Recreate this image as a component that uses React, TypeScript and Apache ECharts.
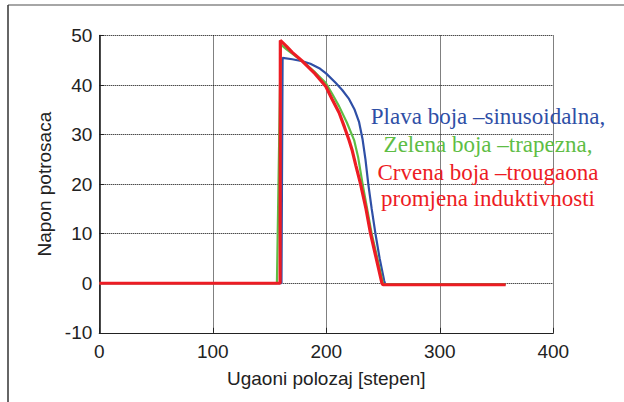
import React, { useEffect, useRef } from "react";
import * as echarts from "echarts";

// X axis: ugaoni polozaj [stepen]
const blueX = [0, 160.5, 161.5, 170, 179, 186, 193.8, 200, 208.4, 214, 220, 225, 228.9, 232, 234.5, 237, 240, 243.3, 247, 251, 252, 300, 358];
const blueY = [0, 0, 45.5, 45.2, 44.8, 44.3, 43.4, 42.3, 40.4, 39, 37.2, 35, 32.5, 29, 25, 20, 15, 10, 5, 0.5, -0.2, -0.2, -0.2];

const greenX = [0, 156.5, 159.8, 165, 172, 180, 190, 199.6, 205, 211.3, 218, 224.5, 228, 232, 236, 240, 245, 250, 251, 300, 358];
const greenY = [0, 0, 48.2, 47.2, 46, 44.6, 42.6, 40.4, 38.3, 35.7, 32.5, 28.9, 25.5, 20, 15, 10, 5, 0, -0.2, -0.2, -0.2];

const redX = [0, 159.3, 159.5, 165, 170, 179, 190, 199.6, 205, 211.3, 216, 220, 222.7, 226, 230, 235, 239, 244, 249, 250, 300, 358];
const redY = [0, 0, 49, 47.8, 46.6, 44.8, 42.3, 39.7, 37.2, 34.4, 31.5, 28.9, 26.9, 23.8, 20.2, 15, 10, 5, 0, -0.3, -0.3, -0.3];

const legendLines = [
  "Plava boja \u2013sinusoidalna,",
  "Zelena boja \u2013trapezna,",
  "Crvena boja \u2013trougaona",
  "promjena induktivnosti",
];

const BLUE = "#2f4fa6";
const GREEN = "#5ebd45";
const RED = "#ed1c24";

const pairs = (xs: number[], ys: number[]) => xs.map((x, i) => [x, ys[i]]);

export default function App() {
  const ref = useRef<HTMLDivElement>(null);
  useEffect(() => {
    if (!ref.current) return;
    const chart = echarts.init(ref.current, null, { renderer: "svg" });
    const legendColors = [BLUE, GREEN, RED, RED];
    const legendY = [105, 133, 160.5, 187];
    chart.setOption({
      animation: false,
      backgroundColor: "#fff",
      grid: { left: 99.3, right: 70.7, top: 35.5, bottom: 69.2, containLabel: false },
      xAxis: {
        type: "value",
        min: 0,
        max: 400,
        interval: 100,
        name: "Ugaoni polozaj [stepen]",
        nameLocation: "middle",
        nameGap: 36,
        nameTextStyle: { fontFamily: "Liberation Sans", fontSize: 19, color: "#222" },
        axisLine: { show: true, onZero: false, lineStyle: { color: "#222", width: 1.2 } },
        axisTick: { show: true, inside: true, length: 5, lineStyle: { color: "#222" } },
        axisLabel: { fontFamily: "Liberation Sans", fontSize: 19, color: "#222", margin: 9 },
        splitLine: { show: true, lineStyle: { color: "#000", type: [1, 1], width: 1 } },
      },
      yAxis: {
        type: "value",
        min: -10,
        max: 50,
        interval: 10,
        name: "Napon potrosaca",
        nameLocation: "middle",
        nameGap: 44,
        nameTextStyle: { fontFamily: "Liberation Sans", fontSize: 19, color: "#222" },
        axisLine: { show: true, onZero: false, lineStyle: { color: "#111", width: 1.5 } },
        axisTick: { show: true, inside: true, length: 5, lineStyle: { color: "#222" } },
        axisLabel: { fontFamily: "Liberation Sans", fontSize: 19, color: "#222", margin: 7 },
        splitLine: { show: true, lineStyle: { color: "#000", type: [1, 1], width: 1 } },
      },
      series: [
        {
          type: "line",
          data: pairs(blueX, blueY),
          showSymbol: false,
          lineStyle: { color: BLUE, width: 2.2 },
          z: 2,
        },
        {
          type: "line",
          data: pairs(greenX, greenY),
          showSymbol: false,
          lineStyle: { color: GREEN, width: 2.2 },
          z: 3,
        },
        {
          type: "line",
          data: pairs(redX, redY),
          showSymbol: false,
          lineStyle: { color: RED, width: 3.2 },
          z: 4,
        },
      ],
      graphic: [
        {
          type: "line",
          shape: { x1: 8, y1: 5, x2: 624, y2: 5 },
          style: { stroke: "#888", lineWidth: 1.5 },
          silent: true,
        },
        {
          type: "line",
          shape: { x1: 8, y1: 5, x2: 8, y2: 402 },
          style: { stroke: "#333", lineWidth: 1.5 },
          silent: true,
        },
        ...legendLines.map((t, i) => ({
          type: "text",
          x: 488,
          y: legendY[i],
          z: 100,
          style: {
            text: t,
            fill: legendColors[i],
            font: '23px "Liberation Serif"',
            textAlign: "center",
            textVerticalAlign: "alphabetic",
          },
          silent: true,
        })),
      ],
    });
    return () => chart.dispose();
  }, []);
  return (
    <div
      ref={ref}
      style={{ position: "fixed", left: 0, top: 0, width: 624, height: 402 }}
    />
  );
}
